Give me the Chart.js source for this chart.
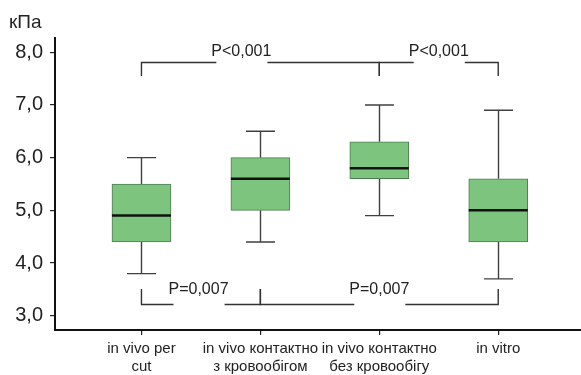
<!DOCTYPE html>
<html>
<head>
<meta charset="utf-8">
<script src="https://cdn.jsdelivr.net/npm/chart.js@4/dist/chart.umd.min.js"></script>
<style>
  html, body { margin: 0; padding: 0; background: #ffffff; }
  #wrap { position: relative; width: 581px; height: 375px; }
</style>
</head>
<body>
<div id="wrap"><canvas id="c" width="581" height="375"></canvas></div>
<script>
// ---- data ----
const categories = [
  ["in vivo per", "cut"],
  ["in vivo контактно", "з кровообігом"],
  ["in vivo контактно", "без кровообігу"],
  ["in vitro"]
];
const whiskerMin = [3.8, 4.4, 4.9, 3.7];
const q1Values   = [4.4, 5.0, 5.6, 4.4];
const medians    = [4.9, 5.6, 5.8, 5.0];
const q3Values   = [5.5, 6.0, 6.3, 5.6];
const whiskerMax = [6.0, 6.5, 7.0, 6.9];
const yTicks = [3, 4, 5, 6, 7, 8];
const yUnit = "кПа";

// significance brackets (category indices, values on the y axis)
const bracketFrom   = [0, 2, 0, 1];
const bracketTo     = [2, 3, 1, 3];
const bracketLineY  = [7.816, 7.816, 3.232, 3.232];
const bracketTickY  = [7.55, 7.55, 3.507, 3.507];
const bracketLabels = ["P<0,001", "P<0,001", "P=0,007", "P=0,007"];
const bracketLabelX = [0.84, 2.5, 0.48, 2.0];
const bracketLabelY = [7.92, 7.92, 3.42, 3.42];

const boxData = categories.map((c, i) => ({ x: i, y: [q1Values[i], q3Values[i]] }));

const boxPlugin = {
  id: 'boxExtras',
  beforeDatasetsDraw(chart) {
    const ctx = chart.ctx, xs = chart.scales.x, ys = chart.scales.y;
    ctx.save();
    ctx.strokeStyle = '#404040';
    ctx.lineWidth = 1.4;
    for (let i = 0; i < categories.length; i++) {
      const cx = Math.round(xs.getPixelForValue(i)) + 0.5;
      const yMax = ys.getPixelForValue(whiskerMax[i]);
      const yMin = ys.getPixelForValue(whiskerMin[i]);
      const yQ1 = ys.getPixelForValue(q1Values[i]);
      const yQ3 = ys.getPixelForValue(q3Values[i]);
      ctx.beginPath();
      ctx.moveTo(cx, yQ3); ctx.lineTo(cx, yMax);
      ctx.moveTo(cx - 14.5, yMax); ctx.lineTo(cx + 14.5, yMax);
      ctx.moveTo(cx, yQ1); ctx.lineTo(cx, yMin);
      ctx.moveTo(cx - 14.5, yMin); ctx.lineTo(cx + 14.5, yMin);
      ctx.stroke();
    }
    ctx.restore();
  },
  afterDatasetsDraw(chart) {
    const ctx = chart.ctx, xs = chart.scales.x, ys = chart.scales.y;
    ctx.save();
    ctx.strokeStyle = '#111111';
    ctx.lineWidth = 2.5;
    for (let i = 0; i < categories.length; i++) {
      const cx = xs.getPixelForValue(i);
      const ym = ys.getPixelForValue(medians[i]);
      ctx.beginPath();
      ctx.moveTo(cx - 29.5, ym); ctx.lineTo(cx + 29.5, ym);
      ctx.stroke();
    }
    // brackets
    ctx.font = '16px "Liberation Sans", Arial, sans-serif';
    ctx.textAlign = 'center';
    ctx.textBaseline = 'alphabetic';
    ctx.lineWidth = 1.4;
    ctx.strokeStyle = '#333333';
    ctx.fillStyle = '#222222';
    for (let b = 0; b < bracketLabels.length; b++) {
      const x1 = xs.getPixelForValue(bracketFrom[b]);
      const x2 = xs.getPixelForValue(bracketTo[b]);
      const ly = Math.round(ys.getPixelForValue(bracketLineY[b])) + 0.5;
      const ty = ys.getPixelForValue(bracketTickY[b]);
      const lx = xs.getPixelForValue(bracketLabelX[b]);
      const w = ctx.measureText(bracketLabels[b]).width;
      const g1 = lx - w / 2 + 5, g2 = lx + w / 2 - 4;
      ctx.beginPath();
      ctx.moveTo(x1, ty); ctx.lineTo(x1, ly); ctx.lineTo(g1, ly);
      ctx.moveTo(g2, ly); ctx.lineTo(x2, ly); ctx.lineTo(x2, ty);
      ctx.stroke();
      ctx.fillText(bracketLabels[b], lx, ys.getPixelForValue(bracketLabelY[b]));
    }
    // unit label
    ctx.font = '19px "Liberation Sans", Arial, sans-serif';
    ctx.textAlign = 'left';
    ctx.textBaseline = 'alphabetic';
    ctx.fillText(yUnit, 9, 28);
    ctx.restore();
  }
};

new Chart(document.getElementById('c'), {
  type: 'bar',
  data: {
    datasets: [{
      data: boxData,
      backgroundColor: '#7dc57f',
      borderColor: '#4d7d50',
      borderWidth: 1,
      borderSkipped: false,
      barThickness: 59
    }]
  },
  options: {
    responsive: false,
    animation: false,
    devicePixelRatio: 1,
    layout: { padding: { top: 38, right: 0, left: 0, bottom: 0 } },
    plugins: { legend: { display: false }, tooltip: { enabled: false } },
    scales: {
      x: {
        type: 'linear',
        offset: false,
        min: -0.727,
        max: 3.696,
        afterBuildTicks(scale) { scale.ticks = categories.map((c, i) => ({ value: i })); },
        afterFit(scale) { scale.height = 45; },
        ticks: {
          autoSkip: false,
          maxRotation: 0,
          padding: 4,
          color: '#222222',
          font: { family: '"Liberation Sans", Arial, sans-serif', size: 15, lineHeight: 1.25 },
          callback: (v) => categories[v] || ''
        },
        grid: { drawOnChartArea: false, offset: false, tickLength: 5, color: '#222222', lineWidth: 1.2 },
        border: { display: true, color: '#111111', width: 2 }
      },
      y: {
        type: 'linear',
        min: 2.73,
        max: 8.27,
        afterBuildTicks(scale) { scale.ticks = yTicks.map(v => ({ value: v })); },
        afterFit(scale) { scale.width = 55; },
        ticks: {
          padding: 7,
          color: '#222222',
          font: { family: '"Liberation Sans", Arial, sans-serif', size: 20 },
          callback: (v) => v.toFixed(1).replace('.', ',')
        },
        grid: { drawOnChartArea: false, tickLength: 5, color: '#222222', lineWidth: 1.2 },
        border: { display: true, color: '#111111', width: 2 }
      }
    }
  },
  plugins: [boxPlugin]
});
</script>
</body>
</html>
